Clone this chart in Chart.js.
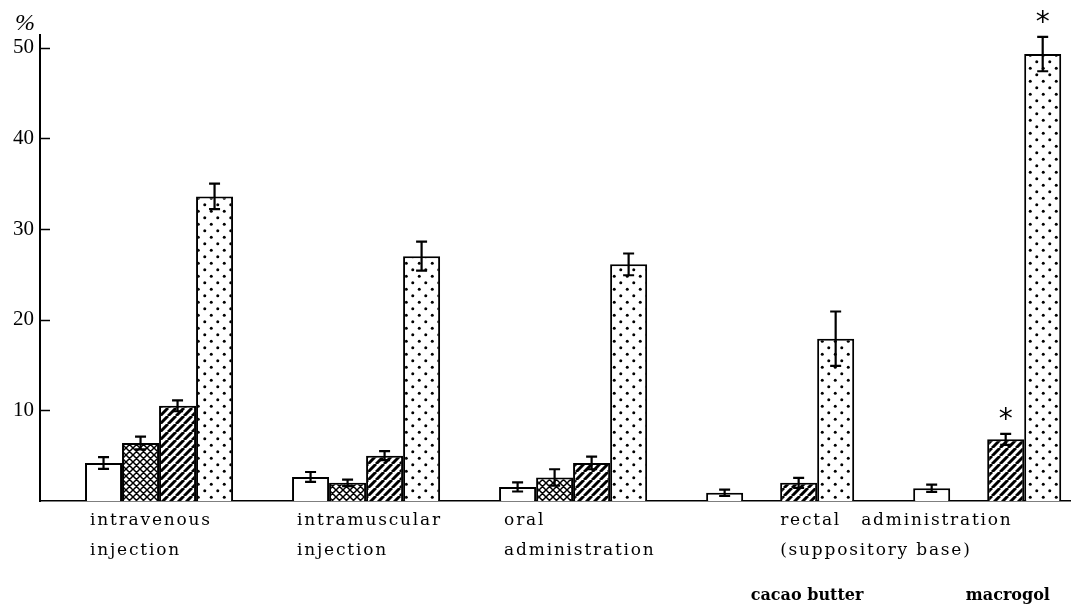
<!DOCTYPE html>
<html>
<head>
<meta charset="utf-8">
<script src="https://cdn.jsdelivr.net/npm/chart.js@4/dist/chart.umd.min.js"></script>
<style>
  html, body { margin: 0; padding: 0; background: #fff; }
  #wrap { width: 1075px; height: 608px; position: relative; }
</style>
</head>
<body>
<div id="wrap"><canvas id="chart" width="1075" height="608"></canvas></div>
<script>
// Route groups, placed at 0..4 on the horizontal value axis
const groupPositions = [0, 1, 2, 3, 4];
const routeLabels = [
  ['intravenous', 'injection'],
  ['intramuscular', 'injection'],
  ['oral', 'administration']
];
const rectalLabel = ['rectal', 'administration', '(suppository base)'];
const baseLabels = ['cacao butter', 'macrogol'];

// Means (%) and error half-widths for each of the four bar series
const openValues  = [4.2, 2.65, 1.55, 0.9, 1.4];
const openErrors  = [0.65, 0.55, 0.5, 0.35, 0.4];
const crossValues = [6.4, 2.0, 2.6, null, null];
const crossErrors = [0.7, 0.35, 0.9, null, null];
const hatchValues = [10.5, 5.0, 4.2, 2.0, 6.8];
const hatchErrors = [0.6, 0.5, 0.7, 0.55, 0.6];
const dotValues   = [33.6, 27.0, 26.1, 17.9, 49.3];
const dotErrors   = [1.4, 1.6, 1.2, 3.0, 1.9];

// Y axis ticks
const yTickValues = [10, 20, 30, 40, 50];
const yMax = 51.4;

// Significant differences: [group index, series index]
const significant = [[4, 2], [4, 3]];

// ---- fill patterns ----
function makeTile(size, draw) {
  const c = document.createElement('canvas');
  c.width = size; c.height = size;
  const g = c.getContext('2d');
  g.fillStyle = '#fff';
  g.fillRect(0, 0, size, size);
  draw(g, size);
  return g.createPattern(c, 'repeat');
}
const hatchFill = makeTile(8, (g, s) => {
  g.strokeStyle = '#000'; g.lineWidth = 3;
  g.beginPath();
  for (let k = -1; k <= 1; k++) { g.moveTo(k * s, s); g.lineTo(k * s + s, 0); }
  g.stroke();
});
const crossFill = makeTile(7, (g, s) => {
  g.strokeStyle = '#000'; g.lineWidth = 1.5;
  g.beginPath();
  for (let k = -1; k <= 1; k++) {
    g.moveTo(k * s, s); g.lineTo(k * s + s, 0);
    g.moveTo(k * s, 0); g.lineTo(k * s + s, s);
  }
  g.stroke();
});
const dotFill = makeTile(13, (g, s) => {
  g.fillStyle = '#000';
  [[3.25, 3.25], [9.75, 9.75]].forEach(([x, y]) => {
    g.beginPath(); g.arc(x, y, 1.5, 0, Math.PI * 2); g.fill();
  });
});

const series = [
  { label: 'open',          values: openValues,  errors: openErrors,  fill: '#fff' },
  { label: 'cross-hatched', values: crossValues, errors: crossErrors, fill: crossFill },
  { label: 'hatched',       values: hatchValues, errors: hatchErrors, fill: hatchFill },
  { label: 'dotted',        values: dotValues,   errors: dotErrors,   fill: dotFill }
];

const datasets = series.map(s => ({
  label: s.label,
  data: groupPositions.map((x, i) => ({ x: x, y: s.values[i] })),
  backgroundColor: s.fill,
  borderColor: '#000',
  borderWidth: 2,
  borderSkipped: 'start',
  categoryPercentage: 0.715,
  barPercentage: 1.0
}));

const serifFont = '"DejaVu Serif", "Liberation Serif", serif';

// Error bars, inner tick marks, labels and markers
const annotate = {
  id: 'annotate',
  afterDatasetsDraw(chart) {
    const ctx = chart.ctx;
    const y = chart.scales.y;
    ctx.save();
    ctx.strokeStyle = '#000';
    ctx.lineWidth = 2.2;
    series.forEach((s, d) => {
      const meta = chart.getDatasetMeta(d);
      s.values.forEach((v, i) => {
        if (v == null) return;
        const bar = meta.data[i];
        const e = s.errors[i];
        const top = y.getPixelForValue(v + e);
        const bot = y.getPixelForValue(v - e);
        const cx = bar.x, cap = 5.5;
        ctx.beginPath();
        ctx.moveTo(cx, top); ctx.lineTo(cx, bot);
        ctx.moveTo(cx - cap, top); ctx.lineTo(cx + cap, top);
        ctx.moveTo(cx - cap, bot); ctx.lineTo(cx + cap, bot);
        ctx.stroke();
      });
    });
    ctx.restore();
  },
  afterDraw(chart) {
    const ctx = chart.ctx;
    const x = chart.scales.x;
    const y = chart.scales.y;
    const area = chart.chartArea;
    ctx.save();

    // tick marks pointing into the plot
    ctx.strokeStyle = '#000';
    ctx.lineWidth = 1.5;
    yTickValues.forEach(v => {
      const py = Math.round(y.getPixelForValue(v)) + 0.5;
      ctx.beginPath();
      ctx.moveTo(area.left, py); ctx.lineTo(area.left + 10, py);
      ctx.stroke();
    });

    // unit
    ctx.fillStyle = '#000';
    ctx.font = 'italic 24px "Liberation Serif", serif';
    ctx.textAlign = 'center';
    ctx.textBaseline = 'middle';
    ctx.fillText('%', 25, 24);

    // route labels
    const half = 0.715 / 2;
    ctx.font = '17px ' + serifFont;
    ctx.textAlign = 'left';
    ctx.letterSpacing = '1.8px';
    routeLabels.forEach((lines, i) => {
      const lx = x.getPixelForValue(groupPositions[i] - half) + 5;
      lines.forEach((t, k) => ctx.fillText(t, lx, 521 + k * 30));
    });
    const rx = x.getPixelForValue(groupPositions[3]);
    ctx.fillText(rectalLabel[0], rx, 521);
    ctx.fillText(rectalLabel[1], rx + 81, 521);
    ctx.fillText(rectalLabel[2], rx, 551);

    // suppository bases
    ctx.letterSpacing = '0px';
    ctx.font = 'bold 16px ' + serifFont;
    ctx.textAlign = 'center';
    ctx.fillText(baseLabels[0], x.getPixelForValue(groupPositions[3] + 0.13), 596);
    ctx.fillText(baseLabels[1], x.getPixelForValue(groupPositions[4] + 0.1), 596);

    // significance markers
    ctx.font = '28px "DejaVu Sans", sans-serif';
    significant.forEach(([g, d]) => {
      const bar = chart.getDatasetMeta(d).data[g];
      const s = series[d];
      const top = y.getPixelForValue(s.values[g] + s.errors[g]);
      ctx.fillText('*', bar.x, top - 13);
    });
    ctx.restore();
  }
};

new Chart(document.getElementById('chart'), {
  type: 'bar',
  data: { datasets },
  options: {
    responsive: false,
    animation: false,
    events: [],
    layout: { padding: { top: 35, right: 5, left: 0, bottom: 0 } },
    plugins: { legend: { display: false }, tooltip: { enabled: false } },
    scales: {
      x: {
        type: 'linear',
        min: -0.575,
        max: 4.4,
        offset: false,
        grid: { display: false, drawTicks: false, offset: false },
        border: { display: true, color: '#000', width: 1.5 },
        ticks: { display: false, stepSize: 1, includeBounds: false },
        afterFit(scale) { scale.height = 107; }
      },
      y: {
        min: 0,
        max: yMax,
        grid: { display: false, drawTicks: false },
        border: { display: true, color: '#000', width: 2 },
        ticks: {
          stepSize: 10,
          includeBounds: false,
          padding: 6,
          color: '#000',
          font: { family: '"Liberation Serif", serif', size: 21 },
          callback: v => (yTickValues.includes(v) ? String(v) : '')
        },
        afterFit(scale) { scale.width = 40; }
      }
    }
  },
  plugins: [annotate]
});
</script>
</body>
</html>
